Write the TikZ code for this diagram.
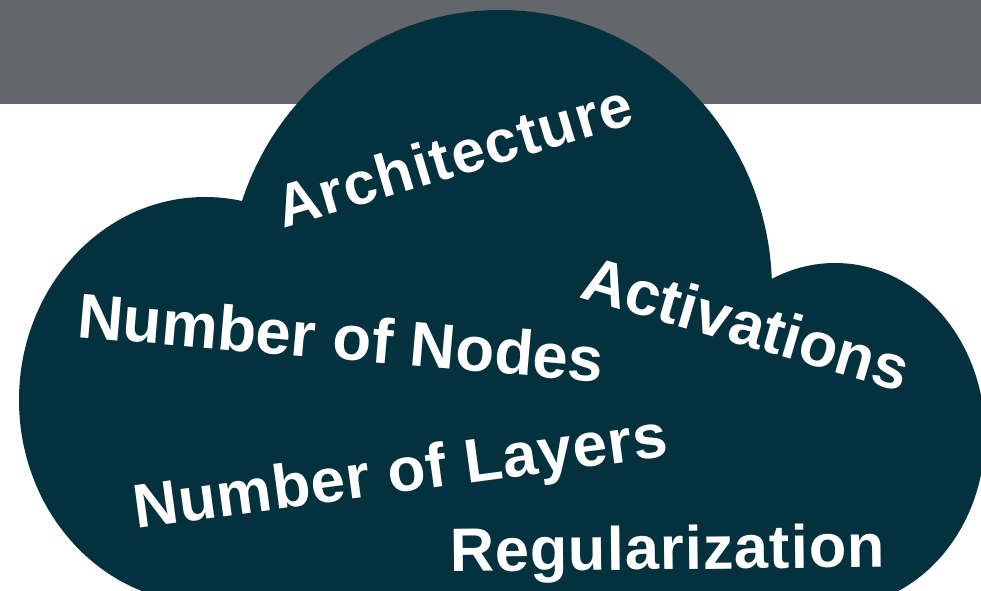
\documentclass[tikz,border=0pt]{standalone}
\usepackage{fontspec}
\setmainfont{Liberation Sans}
\definecolor{bargray}{HTML}{63666A}
\definecolor{cloudteal}{HTML}{03313E}
\begin{document}
\begin{tikzpicture}[x=0.75pt,y=-0.75pt,
  word/.style={text=white, inner sep=0pt, outer sep=0pt, anchor=base west},
  cloudpart/.style={fill=cloudteal, draw=none}]
\useasboundingbox (0,0) rectangle (981,590);
\clip (0,0) rectangle (981,590);
\fill[white] (0,0) rectangle (981,590);
\fill[bargray] (0,0) rectangle (981,104);
% cloud
\path[cloudpart] (205,400) ellipse [x radius=186, y radius=203];
\path[cloudpart] (500,290) ellipse [x radius=272, y radius=280];
\path[cloudpart] (835,435) ellipse [x radius=150, y radius=172];
\path[cloudpart] (140,600) -- (205,400) -- (500,290) -- (835,435) -- (896,600) -- cycle;
% words
\node[word, rotate=16.6, font=\bfseries\fontsize{45}{50}\selectfont\addfontfeature{LetterSpace=2.4}] (arch) at (283,228) {Architecture};
\node[word, rotate=-4.9, font=\bfseries\fontsize{47.5}{54}\selectfont] (nodes) at (76,337) {Number of Nodes};
\node[word, rotate=-16.3, font=\bfseries\fontsize{47}{54}\selectfont] (act) at (578,297) {Activations};
\node[word, rotate=7.7, font=\bfseries\fontsize{46.5}{54}\selectfont\addfontfeature{LetterSpace=1.4}] (layers) at (136,528.3) {Number of Layers};
\node[word, rotate=0.6, font=\bfseries\fontsize{46}{54}\selectfont\addfontfeature{LetterSpace=1.6}] (reg) at (450,571.7) {Regularization};
\end{tikzpicture}
\end{document}
